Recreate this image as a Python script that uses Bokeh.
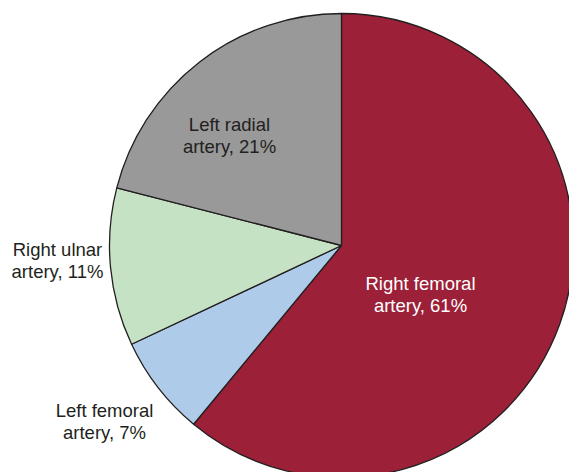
import numpy as np
from bokeh.plotting import figure
from bokeh.models import ColumnDataSource, Range1d
from bokeh.core.properties import value
from bokeh.embed import file_html
from bokeh.resources import INLINE

# Data
categories = ["Right femoral\nartery, 61%", "Left femoral\nartery, 7%",
              "Right ulnar\nartery, 11%", "Left radial\nartery, 21%"]
shares = [61, 7, 11, 21]
colors = ["#9C2037", "#AECCEA", "#C5E2C5", "#999999"]
text_colors = ["#FFFFFF", "#231F20", "#231F20", "#231F20"]
# label positions (pixels, relative to pie centre, y up)
label_dx = [79, -237, -284, -112]
label_dy = [-49, -176, -15, 110]

W, H = 569, 472
cx, cy, R = 341, 227, 232

frac = np.array(shares) / sum(shares)
cum = np.concatenate([[0], np.cumsum(frac)])
start = np.pi / 2 - cum[:-1] * 2 * np.pi
end = np.pi / 2 - cum[1:] * 2 * np.pi

src = ColumnDataSource(dict(start=start, end=end, color=colors))

p = figure(width=W, height=H, x_range=Range1d(0, W), y_range=Range1d(0, H),
           output_backend="svg", toolbar_location=None, min_border=0)
p.axis.visible = False
p.grid.visible = False
p.outline_line_color = None
p.background_fill_color = "white"

p.wedge(x=cx, y=cy, radius=R, start_angle="start", end_angle="end",
        direction="clock", fill_color="color", line_color="#231F20",
        line_width=1.3, source=src)

lsrc = ColumnDataSource(dict(x=[cx + d for d in label_dx],
                             y=[cy + d for d in label_dy],
                             text=categories, tc=text_colors))
p.text(x="x", y="y", text="text", text_color="tc", source=lsrc,
       text_font=value("Liberation Sans"), text_font_size="18.5px",
       text_align="center", text_baseline="middle", text_line_height=1.05)

open("out.html", "w").write(file_html(p, INLINE))
